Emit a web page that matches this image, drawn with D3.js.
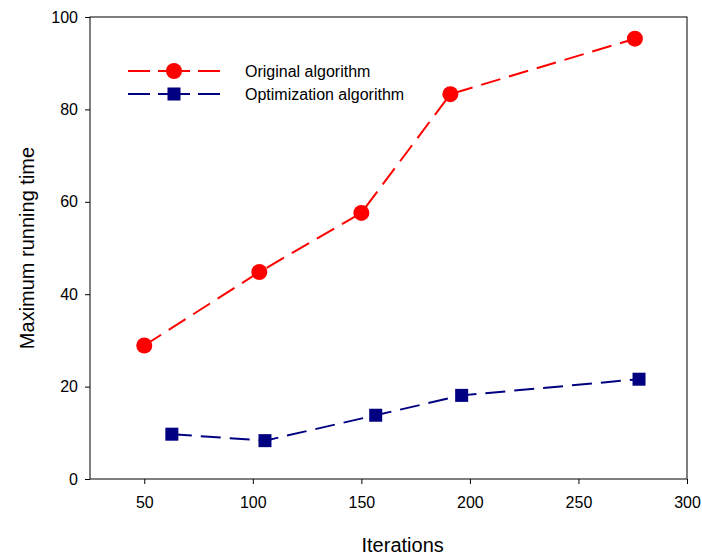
<!DOCTYPE html>
<html>
<head>
<meta charset="utf-8">
<script src="https://cdn.jsdelivr.net/npm/d3@7"></script>
<style>
  html, body { margin: 0; padding: 0; background: #fff; }
</style>
</head>
<body>
<div id="chart"></div>
<script>
// Data
var originalX = [50, 103, 150, 191, 276];
var originalY = [28.9, 44.8, 57.6, 83.3, 95.3];
var optimizedX = [62.7, 105.6, 156.6, 196.2, 277.9];
var optimizedY = [9.7, 8.3, 13.8, 18.1, 21.6];
var xTicks = [50, 100, 150, 200, 250, 300];
var yTicks = [0, 20, 40, 60, 80, 100];
var seriesNames = ['Original algorithm', 'Optimization algorithm'];

var attrs = {
  svgWidth: 702,
  svgHeight: 556,
  marginTop: 17,
  marginBottom: 77,
  marginRight: 15,
  marginLeft: 90,
  font: 'Arial, "Liberation Sans", sans-serif'
};

var calc = {};
calc.chartWidth = attrs.svgWidth - attrs.marginLeft - attrs.marginRight;
calc.chartHeight = attrs.svgHeight - attrs.marginTop - attrs.marginBottom;

var svg = d3.select('#chart').append('svg')
  .attr('width', attrs.svgWidth)
  .attr('height', attrs.svgHeight)
  .attr('font-family', attrs.font);

var chart = svg.append('g')
  .attr('transform', 'translate(' + attrs.marginLeft + ',' + attrs.marginTop + ')');

var x = d3.scaleLinear().domain([25, 300]).range([0, calc.chartWidth]);
var y = d3.scaleLinear().domain([0, 100]).range([calc.chartHeight, 0]);

// frame
chart.append('rect')
  .attr('width', calc.chartWidth)
  .attr('height', calc.chartHeight)
  .attr('fill', 'none')
  .attr('stroke', '#000')
  .attr('stroke-width', 1);

// axes
var xAxis = chart.append('g')
  .attr('transform', 'translate(0,' + calc.chartHeight + ')')
  .call(d3.axisBottom(x).tickValues(xTicks).tickSize(5).tickPadding(13));
var yAxis = chart.append('g')
  .call(d3.axisLeft(y).tickValues(yTicks).tickSize(5).tickPadding(7));

[xAxis, yAxis].forEach(function(a) {
  a.select('.domain').remove();
  a.selectAll('text').attr('font-size', 16).attr('font-family', attrs.font).attr('fill', '#000');
  a.selectAll('line').attr('stroke', '#000');
});

// axis titles
svg.append('text')
  .attr('x', attrs.marginLeft + x(175) - 13)
  .attr('y', 552)
  .attr('text-anchor', 'middle')
  .attr('font-size', 20)
  .text('Iterations');

svg.append('text')
  .attr('transform', 'translate(34,' + (attrs.marginTop + y(50)) + ') rotate(-90)')
  .attr('text-anchor', 'middle')
  .attr('font-size', 20)
  .text('Maximum running time');

var series = [
  { name: seriesNames[0], xs: originalX, ys: originalY, color: '#ff0000', shape: 'circle' },
  { name: seriesNames[1], xs: optimizedX, ys: optimizedY, color: '#000080', shape: 'square' }
];

var line = d3.line().x(function(d) { return x(d[0]); }).y(function(d) { return y(d[1]); });

function drawMarker(g, shape, color, cx, cy) {
  if (shape === 'circle') {
    g.append('circle').attr('cx', cx).attr('cy', cy).attr('r', 8).attr('fill', color);
  } else {
    g.append('rect').attr('x', cx - 6.5).attr('y', cy - 6.5).attr('width', 13).attr('height', 13).attr('fill', color);
  }
}

series.forEach(function(s) {
  var pts = s.xs.map(function(v, i) { return [v, s.ys[i]]; });
  chart.append('path')
    .datum(pts)
    .attr('d', line)
    .attr('fill', 'none')
    .attr('stroke', s.color)
    .attr('stroke-width', 2)
    .attr('stroke-dasharray', '20,9');
  var mg = chart.append('g');
  pts.forEach(function(p) { drawMarker(mg, s.shape, s.color, x(p[0]), y(p[1])); });
});

// legend
var legend = svg.append('g');
series.forEach(function(s, i) {
  var ly = 71 + i * 23;
  var lg = legend.append('g');
  lg.append('line').attr('x1', 128).attr('x2', 150).attr('y1', ly).attr('y2', ly)
    .attr('stroke', s.color).attr('stroke-width', 2);
  lg.append('line').attr('x1', 158).attr('x2', 190).attr('y1', ly).attr('y2', ly)
    .attr('stroke', s.color).attr('stroke-width', 2);
  lg.append('line').attr('x1', 198).attr('x2', 220).attr('y1', ly).attr('y2', ly)
    .attr('stroke', s.color).attr('stroke-width', 2);
  drawMarker(lg, s.shape, s.color, 174, ly);
  lg.append('text').attr('x', 245).attr('y', ly + 6).attr('font-size', 16).text(s.name);
});
</script>
</body>
</html>
